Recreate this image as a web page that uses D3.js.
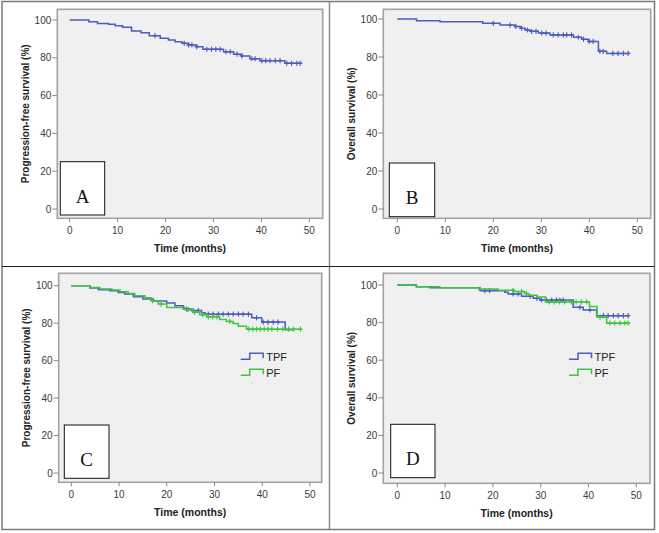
<!DOCTYPE html>
<html>
<head>
<meta charset="utf-8">
<script src="https://cdn.jsdelivr.net/npm/d3@7"></script>
<style>
body { margin: 0; background: #fff; }
text { font-family: "Liberation Sans", Arial, sans-serif; }
text.letter { font-family: "Liberation Serif", "Times New Roman", serif; }
</style>
</head>
<body>
<div class="vis-area"></div>
<script>
var width = 659;
var height = 533;
var blue = '#4a5cbf';
var green = '#3dc53d';

var xTicks = [0, 10, 20, 30, 40, 50];
var yTicks = [0, 20, 40, 60, 80, 100];

// A: progression-free survival, all patients
var pfsTime = [0, 4.0, 5.8, 8.1, 9.5, 11.0, 12.9, 14.9, 16.6, 18.9, 20.6, 22.0, 23.4, 24.8, 26.5, 27.8, 32.1, 34.2, 35.9, 37.6, 39.7, 44.9, 48.1];
var pfsSurv = [100, 99.1, 98.2, 97.7, 97.0, 96.1, 94.2, 93.3, 91.7, 90.3, 89.4, 88.5, 87.7, 86.8, 85.9, 84.5, 83.2, 81.9, 81.0, 79.5, 78.5, 77.1, 77.1];
var pfsCensor = [17.8, 23.9, 24.8, 25.5, 26.5, 28.6, 29.6, 30.5, 31.4, 32.6, 33.5, 34.9, 35.9, 38.0, 38.7, 40.1, 40.9, 41.8, 42.9, 43.9, 45.3, 46.3, 47.4, 48.1];

// B: overall survival, all patients
var osTime = [0, 4.0, 8.9, 17.8, 21.4, 24.5, 25.6, 26.6, 27.6, 29.4, 31.8, 36.7, 38.4, 39.8, 41.9, 43.6, 48.1];
var osSurv = [100, 99.1, 98.6, 97.7, 96.8, 96.1, 95.1, 94.2, 93.5, 92.6, 91.6, 90.4, 89.3, 88.2, 83.0, 81.9, 81.9];
var osCensor = [20.0, 23.5, 24.7, 25.9, 27.1, 28.0, 28.9, 30.1, 31.0, 32.5, 33.5, 34.6, 35.3, 36.3, 37.7, 38.8, 40.0, 40.8, 42.2, 42.9, 44.9, 46.0, 47.1, 48.1];

// C: progression-free survival by arm
var pfsTpfTime = [0, 3.9, 5.7, 8.1, 9.8, 11.2, 13.0, 15.0, 17.2, 20.0, 21.7, 23.5, 25.2, 27.3, 28.0, 37.8, 39.9, 44.8, 46.5];
var pfsTpfSurv = [100, 98.8, 97.9, 97.3, 96.4, 95.6, 94.1, 92.9, 91.8, 90.7, 89.3, 87.5, 86.7, 85.6, 84.8, 82.9, 80.6, 76.5, 76.5];
var pfsTpfCensor = [24.2, 25.5, 26.6, 28.7, 29.7, 30.8, 31.8, 32.9, 33.9, 35.0, 36.0, 37.1, 38.8, 40.2, 41.2, 42.3, 43.3];
var pfsPfTime = [0, 3.9, 6.0, 8.5, 10.2, 11.9, 13.3, 15.4, 16.8, 18.2, 20.0, 23.8, 25.5, 26.9, 28.3, 31.1, 32.5, 33.9, 35.0, 36.7, 48.0];
var pfsPfSurv = [100, 99.1, 98.2, 97.7, 96.8, 95.9, 94.7, 93.6, 92.0, 90.2, 88.4, 87.2, 85.8, 84.5, 83.4, 82.0, 80.9, 79.8, 78.3, 76.8, 76.8];
var pfsPfCensor = [17.0, 18.8, 24.5, 25.8, 27.5, 28.7, 29.6, 30.5, 33.2, 37.2, 38.0, 38.8, 39.6, 40.4, 41.2, 42.0, 43.2, 44.3, 45.5, 46.6, 48.0];

// D: overall survival by arm
var osTpfTime = [0, 4.0, 6.8, 17.3, 22.5, 23.2, 26.0, 28.4, 29.8, 36.8, 38.9, 41.7, 48.3];
var osTpfSurv = [100, 99.1, 98.5, 97.0, 96.1, 95.2, 94.0, 92.9, 92.0, 88.1, 86.7, 83.7, 83.7];
var osTpfCensor = [18.3, 19.3, 24.2, 25.3, 27.8, 29.2, 30.2, 31.2, 32.3, 33.3, 34.0, 34.7, 38.2, 40.3, 43.1, 44.1, 45.2, 46.2, 47.3, 48.3];
var osPfTime = [0, 4.0, 8.9, 17.0, 21.1, 24.4, 26.6, 27.4, 29.3, 31.0, 40.2, 41.8, 43.8, 48.3];
var osPfSurv = [100, 99.1, 98.5, 97.9, 97.2, 96.5, 95.5, 94.6, 93.6, 91.0, 88.6, 82.9, 79.7, 79.7];
var osPfCensor = [24.2, 26.0, 27.0, 31.8, 32.8, 33.9, 35.0, 36.4, 37.4, 38.5, 39.6, 42.4, 44.5, 45.5, 46.6, 47.6, 48.3];

var legendNames = ['TPF', 'PF'];

var svg = d3.select('.vis-area')
  .append('svg')
  .attr('width', width)
  .attr('height', height);

var panels = [
  {label: 'A', yTitle: 'Progression-free survival (%)', frame: [57.3, 9.3, 322.7, 218.3], xRange: [69.7, 309.3], yRange: [209, 20], box: [60.3, 161.7, 104.7, 215],
    series: [{time: pfsTime, surv: pfsSurv, censor: pfsCensor, color: blue}]},
  {label: 'B', yTitle: 'Overall survival (%)', frame: [383.3, 9.3, 650.7, 218.3], xRange: [397.3, 637.3], yRange: [209, 19], box: [389.3, 163, 434.7, 216.7],
    series: [{time: osTime, surv: osSurv, censor: osCensor, color: blue}]},
  {label: 'C', yTitle: 'Progression-free survival (%)', frame: [58.7, 273.3, 321.7, 482.3], xRange: [71.3, 310], yRange: [473, 285.7], box: [64.3, 425, 109, 478.3], legend: true,
    series: [{time: pfsTpfTime, surv: pfsTpfSurv, censor: pfsTpfCensor, color: blue},
             {time: pfsPfTime, surv: pfsPfSurv, censor: pfsPfCensor, color: green}]},
  {label: 'D', yTitle: 'Overall survival (%)', frame: [383.3, 273.3, 650, 483.3], xRange: [397.3, 636.3], yRange: [473, 285], box: [390.7, 424.3, 435, 477.7], legend: true,
    series: [{time: osTpfTime, surv: osTpfSurv, censor: osTpfCensor, color: blue},
             {time: osPfTime, surv: osPfSurv, censor: osPfCensor, color: green}]}
];

// outer frame and dividers
svg.append('rect')
  .attr('x', 2).attr('y', 1.5)
  .attr('width', 652.5).attr('height', 528)
  .attr('fill', 'none')
  .attr('stroke', '#7a7a7a')
  .attr('stroke-width', 1.5);
svg.append('line')
  .attr('x1', 329.5).attr('x2', 329.5).attr('y1', 1.5).attr('y2', 529.5)
  .attr('stroke', '#8a8a8a').attr('stroke-width', 1.5);
svg.append('line')
  .attr('x1', 2).attr('x2', 654.5).attr('y1', 266.5).attr('y2', 266.5)
  .attr('stroke', '#222').attr('stroke-width', 1.2);

panels.forEach(drawPanel);

function survAt(time, surv, t) {
  var i = d3.bisectRight(time, t) - 1;
  return surv[Math.max(0, i)];
}

function drawPanel(p) {
  var g = svg.append('g');
  var left = p.frame[0], top = p.frame[1], right = p.frame[2], bottom = p.frame[3];
  var x = d3.scaleLinear().domain([0, 50]).range(p.xRange);
  var y = d3.scaleLinear().domain([0, 100]).range(p.yRange);

  g.append('rect')
    .attr('x', left).attr('y', top)
    .attr('width', right - left).attr('height', bottom - top)
    .attr('fill', '#f0f0f0')
    .attr('stroke', '#a3a3a3')
    .attr('stroke-width', 1.6);

  // y axis
  g.selectAll('.ytick')
    .data(yTicks)
    .enter()
    .append('line')
    .attr('x1', left - 5).attr('x2', left)
    .attr('y1', d => y(d)).attr('y2', d => y(d))
    .attr('stroke', '#8a8a8a');
  g.selectAll('.ylab')
    .data(yTicks)
    .enter()
    .append('text')
    .attr('x', left - 6)
    .attr('y', d => y(d))
    .attr('dy', '0.35em')
    .attr('text-anchor', 'end')
    .attr('font-size', 10)
    .attr('fill', '#3c3c3c')
    .text(d => d);

  // x axis
  g.selectAll('.xtick')
    .data(xTicks)
    .enter()
    .append('line')
    .attr('x1', d => x(d)).attr('x2', d => x(d))
    .attr('y1', bottom).attr('y2', bottom + 4)
    .attr('stroke', '#8a8a8a');
  g.selectAll('.xlab')
    .data(xTicks)
    .enter()
    .append('text')
    .attr('x', d => x(d))
    .attr('y', bottom + 12)
    .attr('dy', '0.35em')
    .attr('text-anchor', 'middle')
    .attr('font-size', 10)
    .attr('fill', '#3c3c3c')
    .text(d => d);

  g.append('text')
    .attr('x', (left + right) / 2)
    .attr('y', bottom + 30)
    .attr('dy', '0.35em')
    .attr('text-anchor', 'middle')
    .attr('font-size', 10.5)
    .attr('font-weight', 'bold')
    .attr('fill', '#222')
    .text('Time (months)');

  g.append('text')
    .attr('transform', `translate(${left - 32},${(top + bottom) / 2}) rotate(-90)`)
    .attr('dy', '0.35em')
    .attr('text-anchor', 'middle')
    .attr('font-size', 10)
    .attr('font-weight', 'bold')
    .attr('fill', '#222')
    .text(p.yTitle);

  var line = d3.line()
    .x(d => x(d[0]))
    .y(d => y(d[1]))
    .curve(d3.curveStepAfter);

  p.series.forEach(s => {
    var pts = s.time.map((t, i) => [t, s.surv[i]]);
    g.append('path')
      .attr('d', line(pts))
      .attr('fill', 'none')
      .attr('stroke', s.color)
      .attr('stroke-width', 1.5);

    var marks = g.selectAll(null)
      .data(s.censor)
      .enter()
      .append('g')
      .attr('transform', d => `translate(${x(d)},${y(survAt(s.time, s.surv, d))})`);
    marks.append('line')
      .attr('x1', 0).attr('x2', 0).attr('y1', -2.6).attr('y2', 2.6)
      .attr('stroke', s.color).attr('stroke-width', 1.1);
    marks.append('line')
      .attr('x1', -2.2).attr('x2', 2.2).attr('y1', 0).attr('y2', 0)
      .attr('stroke', s.color).attr('stroke-width', 1.4);
  });

  if (p.legend) {
    var lx = right - 81, ly = top + 80;
    p.series.forEach((s, i) => {
      var oy = ly + i * 16;
      g.append('path')
        .attr('d', `M${lx},${oy + 6}H${lx + 9}V${oy}H${lx + 22.5}V${oy + 5}`)
        .attr('fill', 'none')
        .attr('stroke', s.color)
        .attr('stroke-width', 1.5);
      g.append('text')
        .attr('x', lx + 25.5)
        .attr('y', oy + 4)
        .attr('dy', '0.35em')
        .attr('font-size', 11)
        .attr('fill', '#222')
        .text(legendNames[i]);
    });
    g.append('rect')
      .attr('x', lx + 10.5).attr('y', ly + 29)
      .attr('width', 1).attr('height', 1)
      .attr('fill', '#8f9ad8');
  }

  // panel letter box
  g.append('rect')
    .attr('x', p.box[0]).attr('y', p.box[1])
    .attr('width', p.box[2] - p.box[0]).attr('height', p.box[3] - p.box[1])
    .attr('fill', '#fff')
    .attr('stroke', '#111')
    .attr('stroke-width', 1);
  g.append('text')
    .attr('class', 'letter')
    .attr('x', (p.box[0] + p.box[2]) / 2)
    .attr('y', p.box[3] - 12.5)
    .attr('text-anchor', 'middle')
    .attr('font-size', 19)
    .attr('fill', '#111')
    .text(p.label);
}
</script>
</body>
</html>
